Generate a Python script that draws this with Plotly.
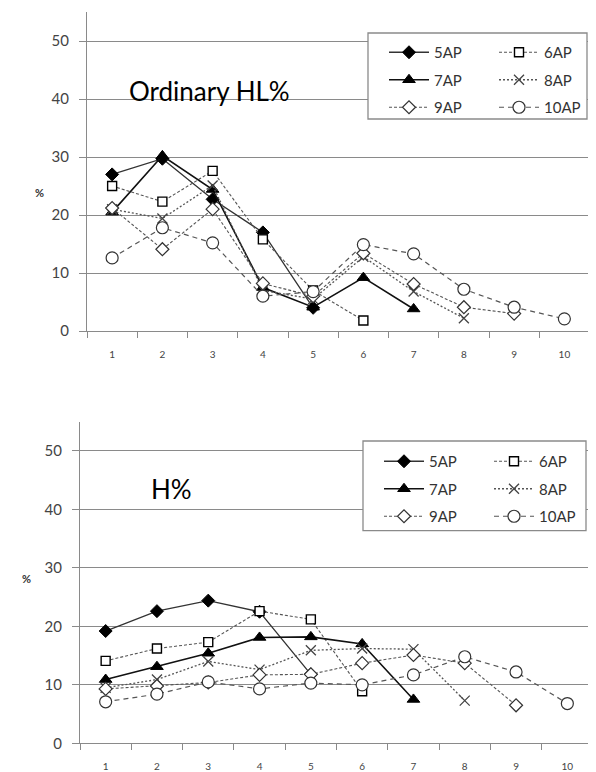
import plotly.graph_objects as go

# The page body adds an 8px margin, so the figure is drawn 8px in from the
# top-left of the window; positions below are given in window pixels.
OFF = 8
W, H = 588, 764

categories = ["1", "2", "3", "4", "5", "6", "7", "8", "9", "10"]
series_names = ["5AP", "6AP", "7AP", "8AP", "9AP", "10AP"]

# Ordinary HL% (top panel)
hl_5ap = [27.0, 29.7, 22.7, 17.0, 4.0]
hl_6ap = [25.0, 22.3, 27.6, 15.8, 7.0, 1.8]
hl_7ap = [20.5, 30.2, 24.4, 7.5, 4.1, 9.2, 3.8]
hl_8ap = [21.0, 19.4, 25.1, 7.0, 5.5, 12.8, 6.8, 2.2]
hl_9ap = [21.2, 14.1, 21.0, 8.2, 6.0, 13.4, 8.1, 4.1, 3.0]
hl_10ap = [12.6, 17.8, 15.2, 6.0, 6.8, 14.9, 13.3, 7.2, 4.1, 2.1]

# H% (bottom panel)
h_5ap = [19.2, 22.6, 24.4, 22.5, 11.8]
h_6ap = [14.1, 16.2, 17.3, 22.6, 21.2, 8.9]
h_7ap = [10.9, 13.1, 15.4, 18.1, 18.2, 17.0, 7.5]
h_8ap = [9.5, 10.9, 14.0, 12.6, 15.9, 16.2, 16.1, 7.3]
h_9ap = [9.3, 9.8, 10.4, 11.7, 11.8, 13.7, 15.1, 13.7, 6.5]
h_10ap = [7.1, 8.4, 10.5, 9.3, 10.3, 10.0, 11.7, 14.8, 12.2, 6.8]

top_values = [hl_5ap, hl_6ap, hl_7ap, hl_8ap, hl_9ap, hl_10ap]
bottom_values = [h_5ap, h_6ap, h_7ap, h_8ap, h_9ap, h_10ap]

styles = {
    "5AP": dict(line=dict(color="#333333", width=1.3, dash="solid"),
                marker=dict(symbol="diamond", size=10, color="black",
                            line=dict(color="black", width=1))),
    "6AP": dict(line=dict(color="#555555", width=1.1, dash="3px,2px"),
                marker=dict(symbol="square", size=9, color="white",
                            line=dict(color="black", width=1.4))),
    "7AP": dict(line=dict(color="#111111", width=1.6, dash="solid"),
                marker=dict(symbol="triangle-up", size=11, color="black",
                            line=dict(color="black", width=1))),
    "8AP": dict(line=dict(color="#555555", width=1.3, dash="2px,2px"),
                marker=dict(symbol="x-thin", size=10, color="#444444",
                            line=dict(color="#444444", width=1.3))),
    "9AP": dict(line=dict(color="#555555", width=1.1, dash="3px,2px"),
                marker=dict(symbol="diamond", size=10, color="white",
                            line=dict(color="#333333", width=1.2))),
    "10AP": dict(line=dict(color="#555555", width=1.2, dash="5px,4px"),
                 marker=dict(symbol="circle", size=12, color="white",
                             line=dict(color="#333333", width=1.2))),
}

col1 = ["5AP", "7AP", "9AP"]

fig = go.Figure()

for panel, (vals_list, xa, ya, lg1, lg2) in enumerate([
        (top_values, "x", "y", "legend", "legend2"),
        (bottom_values, "x2", "y2", "legend3", "legend4")]):
    for name, vals in zip(series_names, vals_list):
        st = styles[name]
        fig.add_trace(go.Scatter(
            x=categories[:len(vals)], y=vals, name=name,
            mode="lines+markers", line=st["line"], marker=st["marker"],
            xaxis=xa, yaxis=ya,
            legend=lg1 if name in col1 else lg2,
            legendgroup=f"p{panel}{name}",
        ))

def px_x(p):
    return (p - OFF) / W

def px_y(p):
    return 1 - (p - OFF) / H

grid_col = "#8a8a8a"
tick_font = dict(family="Lato, Liberation Sans, sans-serif", size=15, color="#444444")
xtick_font = dict(family="Lato, Liberation Sans, sans-serif", size=10, color="#444444")

common_x = dict(type="category", categoryorder="array", categoryarray=categories,
                range=[-0.5, 9.5], tickson="boundaries", ticks="outside",
                ticklen=6, tickcolor=grid_col, showline=True, linecolor=grid_col,
                linewidth=1.3, showgrid=False, tickfont=xtick_font, zeroline=False,
                automargin=False, ticklabelstandoff=14)
common_y = dict(range=[0, 55], dtick=10, tick0=0, ticks="outside", ticklen=7,
                tickcolor=grid_col, showline=True, linecolor=grid_col, linewidth=1.3,
                showgrid=True, gridcolor=grid_col, gridwidth=1.2, zeroline=False,
                tickfont=tick_font, automargin=False, ticklabelstandoff=7)

fig.update_layout(
    width=W, height=H,
    margin=dict(l=0, r=0, t=0, b=0, autoexpand=False),
    paper_bgcolor="white", plot_bgcolor="white",
    font=dict(family="Lato, Liberation Sans, sans-serif", color="#333333"),
    xaxis=dict(domain=[px_x(87), px_x(589.5)], anchor="y", **common_x),
    yaxis=dict(domain=[px_y(331), px_y(12)], anchor="x", **common_y),
    xaxis2=dict(domain=[px_x(80), min(1.0, px_x(593))], anchor="y2", **common_x),
    yaxis2=dict(domain=[px_y(743.3), px_y(421.7)], anchor="x2", **common_y),
)

leg_common = dict(bgcolor="rgba(0,0,0,0)", borderwidth=0, orientation="v",
                  xanchor="left", yanchor="top", tracegroupgap=5, itemwidth=40,
                  font=dict(family="Lato, Liberation Sans, sans-serif", size=15,
                            color="#333333"))
fig.update_layout(
    legend=dict(x=px_x(384), y=px_y(36), **leg_common),
    legend2=dict(x=px_x(494), y=px_y(36), **leg_common),
    legend3=dict(x=px_x(379), y=px_y(445), **leg_common),
    legend4=dict(x=px_x(489), y=px_y(445), **leg_common),
)

# legend frames
for (x0, y0, x1, y1) in [(368, 33, 587, 119), (363, 441, 586, 530.7)]:
    fig.add_shape(type="rect", xref="paper", yref="paper",
                  x0=px_x(x0), x1=px_x(x1), y0=px_y(y1), y1=px_y(y0),
                  fillcolor="white", line=dict(color=grid_col, width=1.3),
                  layer="above")

ann_font = dict(family="Lato, Liberation Sans, sans-serif", size=26, color="black")
fig.add_annotation(text="Ordinary HL%", xref="paper", yref="paper",
                   x=px_x(209), y=px_y(73), showarrow=False, font=ann_font)
fig.add_annotation(text="H%", xref="paper", yref="paper",
                   x=px_x(149), y=px_y(489), showarrow=False, font=ann_font)
pct_font = dict(family="Lato, Liberation Sans, sans-serif", size=11, color="#333333")
fig.add_annotation(text="<b>%</b>", xref="paper", yref="paper",
                   x=px_x(33), y=px_y(184), showarrow=False, font=pct_font)
fig.add_annotation(text="<b>%</b>", xref="paper", yref="paper",
                   x=px_x(20), y=px_y(587), showarrow=False, font=pct_font)

fig.write_html("out.html")
